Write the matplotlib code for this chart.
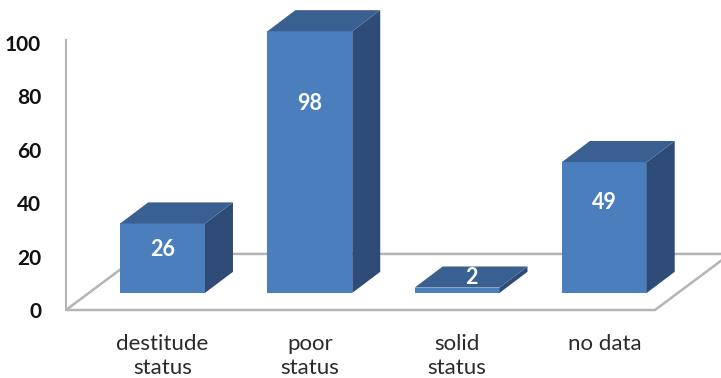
import numpy as np
import matplotlib.pyplot as plt
from matplotlib.patches import Polygon

categories = ['destitude\nstatus', 'poor\nstatus', 'solid\nstatus', 'no data']
values = [26, 98, 2, 49]
y_ticks = [0, 20, 40, 60, 80, 100]

front_col = '#4a7ebd'
top_col = '#3a5f91'
side_col = '#2f4c78'
floor_col = '#b4b4b4'

plt.rcParams['font.family'] = ['Lato', 'DejaVu Sans']

fig = plt.figure(figsize=(7.21, 3.78), dpi=100)
ax = fig.add_axes([66 / 721, 68 / 378, 589 / 721, 267 / 378])
ax.set_xlim(-0.5, 3.5)
ax.set_ylim(0, 100)

# fake 3d: oblique offsets in data units
floor_dx, floor_dy = 0.51, 21.0   # depth of the floor
front_dx, front_dy = 0.156, 6.4   # where the bar fronts stand
bar_dx, bar_dy = 0.19, 7.9        # depth of a bar
width = 0.576

x = np.arange(len(values))

# floor outline
floor = Polygon([(-0.5, 0), (3.5, 0), (3.5 + floor_dx, floor_dy), (-0.5 + floor_dx, floor_dy)],
                closed=True, fill=False, edgecolor=floor_col, lw=1.8, clip_on=False, zorder=1)
ax.add_patch(floor)

# front faces
xs = x + front_dx
ax.bar(xs, values, width, bottom=front_dy, color=front_col, zorder=3, clip_on=False)

for xi, v in zip(xs, values):
    l = xi - width / 2
    r = xi + width / 2
    b = front_dy
    t = front_dy + v
    side = Polygon([(r, b), (r + bar_dx, b + bar_dy), (r + bar_dx, t + bar_dy), (r, t)],
                   closed=True, facecolor=side_col, edgecolor='none', zorder=3, clip_on=False)
    top = Polygon([(l, t), (r, t), (r + bar_dx, t + bar_dy), (l + bar_dx, t + bar_dy)],
                  closed=True, facecolor=top_col, edgecolor='none', zorder=3, clip_on=False)
    ax.add_patch(side)
    ax.add_patch(top)

    # value labels, tiny bars get theirs on the top face
    if v < 5:
        lx, ly = xi + bar_dx / 2, t + bar_dy / 2
    else:
        lx, ly = xi, 3 + 0.76 * v
    ax.text(lx, ly, str(v), color='white', fontsize=15.5, fontweight='bold',
            ha='center', va='center', zorder=4)

for s in ['top', 'right', 'bottom']:
    ax.spines[s].set_visible(False)
ax.spines['left'].set_color(floor_col)
ax.spines['left'].set_linewidth(1.5)
ax.spines['left'].set_bounds(0, 101)

ax.set_yticks(y_ticks)
ax.tick_params(axis='y', length=0, pad=18, labelsize=15, labelcolor='#111111')
for lab in ax.get_yticklabels():
    lab.set_fontweight('bold')
ax.set_xticks(xs, categories)
ax.tick_params(axis='x', length=0, pad=17, labelsize=16, labelcolor='#2a2a2a')
for lab in ax.get_xticklabels():
    lab.set_linespacing(1.3)

fig.savefig('out.png', dpi=100)
